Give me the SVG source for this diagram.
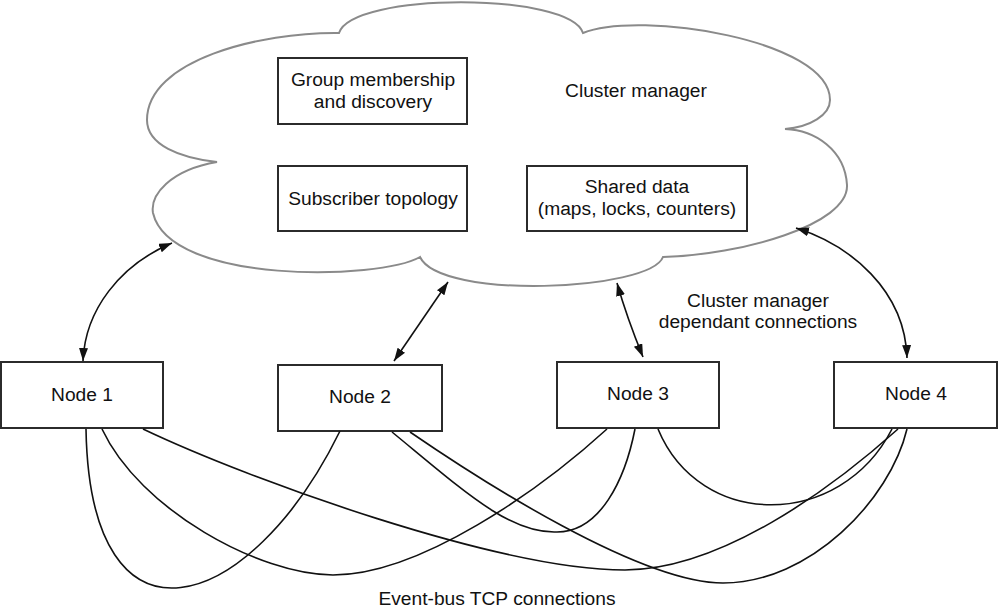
<svg xmlns="http://www.w3.org/2000/svg" width="998" height="612" viewBox="0 0 998 612">
<style>
text{font-family:"Liberation Sans",Arial,sans-serif;font-size:19.2px;fill:#111;text-anchor:middle}
.box{fill:#fff;stroke:#2b2b2b;stroke-width:2}
.cloud{fill:#fff;stroke:#8a8a8a;stroke-width:2}
.arr{fill:none;stroke:#111;stroke-width:1.6;marker-start:url(#ah);marker-end:url(#ah)}
.bus{fill:none;stroke:#111;stroke-width:1.6}
</style>
<defs>
<marker id="ah" markerUnits="userSpaceOnUse" markerWidth="14" markerHeight="10" refX="13" refY="4.5" orient="auto-start-reverse">
<path d="M0,0 L13,4.5 L0,9 z" fill="#111"/>
</marker>
</defs>
<rect width="998" height="612" fill="#fff"/>
<g id="cluster-manager">
<path class="cloud" d="M339,33 C352,-8 570,-8 583,33 C640,10 830,40 830,100 C830,115 810,127 785,129 C815,130 845,150 847,185 C849,225 740,255 663,257 C650,291 440,300 420,257 C380,280 170,285 153,213 C150,195 170,170 217,162 C180,158 147,145 147,120 C147,60 260,32 339,33 Z"/>
<text x="636" y="97">Cluster manager</text>
</g>
<g id="group-membership">
<rect class="box" x="278" y="58" width="189" height="66"/>
<text x="373" y="86">Group membership</text>
<text x="373" y="108">and discovery</text>
</g>
<g id="subscriber-topology">
<rect class="box" x="278" y="166" width="189" height="65"/>
<text x="373" y="205">Subscriber topology</text>
</g>
<g id="shared-data">
<rect class="box" x="527" y="166" width="220" height="65"/>
<text x="637" y="193">Shared data</text>
<text x="637" y="215">(maps, locks, counters)</text>
</g>
<g id="node1">
<rect class="box" x="1" y="362" width="162" height="66"/>
<text x="82" y="401">Node 1</text>
</g>
<g id="node2">
<rect class="box" x="278" y="365" width="164" height="66"/>
<text x="360" y="403">Node 2</text>
</g>
<g id="node3">
<rect class="box" x="557" y="362" width="162" height="66"/>
<text x="638" y="400">Node 3</text>
</g>
<g id="node4">
<rect class="box" x="834" y="362" width="163" height="66"/>
<text x="916" y="400">Node 4</text>
</g>
<g id="connectors">
<path class="arr" d="M83,361 C85,310 120,265 172,243"/>
<path class="arr" d="M394,361 L448,282"/>
<path class="arr" d="M617,283 Q627,318 643,357"/>
<path class="arr" d="M796,228 C850,245 905,290 907,358"/>
<path class="bus" d="M86,429 C90,665 250,615 340,431"/>
<path class="bus" d="M102,429 C140,510 260,575 333,575 C420,575 540,490 607,429"/>
<path class="bus" d="M143,429 C250,480 500,570 625,570 C720,570 830,490 898,429"/>
<path class="bus" d="M392,432 C465,492 510,534 557,532 C600,532 625,480 635,429"/>
<path class="bus" d="M410,432 C480,480 640,583 723,583 C810,583 890,500 907,429"/>
<path class="bus" d="M658,429 C700,530 840,530 892,429"/>
</g>
<g id="labels">
<text x="758" y="307">Cluster manager</text>
<text x="758" y="328">dependant connections</text>
<text x="497" y="605">Event-bus TCP connections</text>
</g>
</svg>
